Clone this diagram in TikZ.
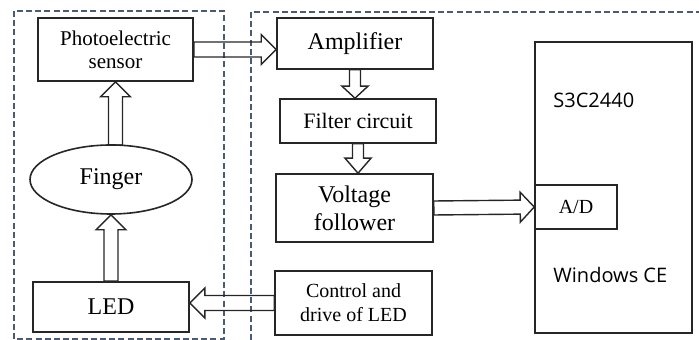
\documentclass[tikz,border=0pt]{standalone}
\usepackage{fontspec}
\setmainfont{Liberation Serif}
\newfontfamily\mcufont{Open Sans}
\usepackage{tikz}
\usetikzlibrary{calc,shapes.geometric}
\definecolor{pblue}{HTML}{4B5A75}
\tikzset{
  pframe/.style={draw=pblue, dash pattern=on 3pt off 1.6pt, line width=0.65pt},
  pbox/.style={rectangle, draw=black!85, line width=0.8pt, align=center,
               inner sep=1pt},
  poval/.style={ellipse, draw=black!85, line width=0.8pt, inner sep=0pt},
  pbig/.style={font=\fontsize{12}{14}\selectfont},
  pmid/.style={font=\fontsize{10.5}{11.5}\selectfont},
  psans/.style={font=\mcufont\fontsize{10}{12}\selectfont, anchor=west,
                inner sep=0pt},
  % hollow block arrow: shaft half width, head half width, head length
  parrow/.style n args={3}{draw=black!85, line width=0.7pt, line join=miter,
    to path={
      ($(\tikztostart)!#1!90:(\tikztotarget)$)
      -- ($($(\tikztotarget)!#3!(\tikztostart)$)!#1!-90:(\tikztostart)$)
      -- ($($(\tikztotarget)!#3!(\tikztostart)$)!#2!-90:(\tikztostart)$)
      -- (\tikztotarget)
      -- ($($(\tikztotarget)!#3!(\tikztostart)$)!#2!90:(\tikztostart)$)
      -- ($($(\tikztotarget)!#3!(\tikztostart)$)!#1!90:(\tikztostart)$)
      -- ($(\tikztostart)!#1!-90:(\tikztotarget)$) -- cycle}},
}

\begin{document}
\begin{tikzpicture}[x=0.5pt,y=-0.5pt]
  \useasboundingbox (0,0) rectangle (699,340);

  % dashed frames
  \draw[pframe] (14,11) rectangle (224,339);
  \draw[pframe] (251,340) -- (251,12) -- (699,12);

  % sensor side
  \node[pbox, pmid, minimum width=77.5pt, minimum height=31.5pt]
    (sensor) at (115.5,49.5) {Photoelectric\\sensor};
  \node[poval, pbig, minimum width=81pt, minimum height=34.5pt]
    (finger) at (111,179.5) {Finger};
  \node[pbox, pbig, minimum width=78pt, minimum height=25pt]
    (led) at (111,307) {LED};

  % signal chain
  \node[pbox, pbig, minimum width=78pt, minimum height=25.5pt]
    (amp) at (355,43.5) {Amplifier};
  \node[pbox, font=\fontsize{11}{13}\selectfont, minimum width=78pt,
        minimum height=22pt] (filter) at (358,121) {Filter circuit};
  \node[pbox, pbig, minimum width=78.5pt, minimum height=34pt]
    (follower) at (354.5,208) {Voltage\\follower};
  \node[pbox, font=\fontsize{10}{12}\selectfont, minimum width=78.5pt,
        minimum height=32pt] (drive) at (353.5,303) {Control and\\drive of LED};

  % processor
  \node[pbox, minimum width=78.5pt, minimum height=145.5pt]
    (mcu) at (613.5,187.5) {};
  \node[pbox, font=\fontsize{10}{12}\selectfont, minimum width=41pt,
        minimum height=22pt] (adc) at (576,207) {A/D};
  \node[psans] (mcuname) at (553,100) {S3C2440};
  \node[psans] (mcuos) at (553,275) {Windows CE};

  % straight arrow ends
  \coordinate (fingerin) at (led.north |- finger.south);
  \coordinate (fingerout) at ($(sensor.south |- finger.north)+(0,1)$);
  \coordinate (ampin) at (sensor.east -| amp.west);
  \coordinate (filterin) at (amp.south |- filter.north);
  \coordinate (followerin) at (filter.south |- follower.north);
  \coordinate (ledin) at (drive.west -| led.east);

  \draw[parrow={3.5pt}{7.5pt}{7.5pt}] (led.north) to (fingerin);
  \draw[parrow={3.5pt}{7.5pt}{7.5pt}] (fingerout) to (sensor.south);
  \draw[parrow={3.75pt}{7.5pt}{7.5pt}] (sensor.east) to (ampin);
  \draw[parrow={2.75pt}{6.5pt}{6pt}] (amp.south) to (filterin);
  \draw[parrow={2.75pt}{6.5pt}{7.5pt}] (filter.south) to (followerin);
  \draw[parrow={3.5pt}{7.5pt}{7pt}] (follower.east) to (adc.west);
  \draw[parrow={3.75pt}{7.5pt}{7.5pt}] (drive.west) to (ledin);

\end{tikzpicture}
\end{document}
